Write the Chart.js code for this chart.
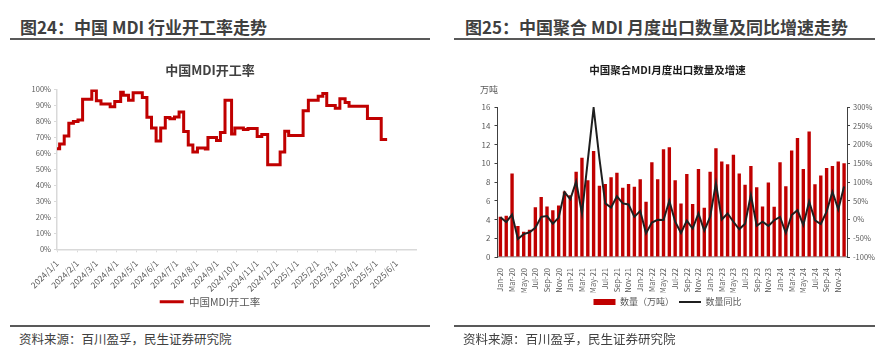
<!DOCTYPE html>
<html>
<head>
<meta charset="utf-8">
<script src="https://cdn.jsdelivr.net/npm/chart.js@4.4.1/dist/chart.umd.min.js"></script>
<style>
  body { margin: 0; width: 890px; height: 360px; background: #fff; overflow: hidden; position: relative; font-family: "Noto Sans CJK SC", sans-serif; }
  .head { position: absolute; top: 17px; font-size: 17px; font-weight: bold; color: #3f3f3f; line-height: 20px; white-space: nowrap; }
  .rule { position: absolute; height: 2px; background: #595959; }
  .src { position: absolute; top: 331px; font-size: 12.5px; color: #404040; line-height: 16px; white-space: nowrap; }
  .box { position: absolute; top: 55px; height: 262px; }
  .unit { position: absolute; left: 480px; top: 84px; font-size: 9px; line-height: 12px; color: #595959; }
</style>
</head>
<body>
<div class="head" style="left:20px">图24：中国 MDI 行业开工率走势</div>
<div class="rule" style="left:10px;top:38px;width:420px"></div>
<div class="box" style="left:4px;width:445px"><canvas id="rateChart"></canvas></div>
<div class="rule" style="left:10px;top:325px;width:420px"></div>
<div class="src" style="left:19px">资料来源：百川盈孚，民生证券研究院</div>

<div class="head" style="left:465px">图25：中国聚合 MDI 月度出口数量及同比增速走势</div>
<div class="rule" style="left:454px;top:38px;width:421px"></div>
<div class="box" style="left:445px;width:445px"><canvas id="exportChart"></canvas></div>
<div class="unit">万吨</div>
<div class="rule" style="left:454px;top:325px;width:421px"></div>
<div class="src" style="left:463px">资料来源：百川盈孚，民生证券研究院</div>

<script>
'use strict';

// 图24: MDI operating rate, value holds from each date until the next change
let rateDates = ['2024/1/1', '2024/1/5', '2024/1/12', '2024/1/19', '2024/1/26', '2024/2/2', '2024/2/9', '2024/2/23',
  '2024/3/1', '2024/3/8', '2024/3/22', '2024/3/29', '2024/4/7', '2024/4/11', '2024/4/19', '2024/4/26',
  '2024/5/10', '2024/5/17', '2024/5/24', '2024/5/31', '2024/6/7', '2024/6/14', '2024/6/21', '2024/6/28',
  '2024/7/5', '2024/7/12', '2024/7/19', '2024/7/26', '2024/8/2', '2024/8/14', '2024/8/18', '2024/8/31',
  '2024/9/6', '2024/9/13', '2024/9/23', '2024/9/28', '2024/10/11', '2024/10/18', '2024/11/1', '2024/11/8',
  '2024/11/17', '2024/12/6', '2024/12/13', '2024/12/19', '2025/1/10', '2025/1/18', '2025/2/2', '2025/2/9',
  '2025/2/15', '2025/2/28', '2025/3/7', '2025/3/15', '2025/3/21', '2025/4/18', '2025/5/9', '2025/5/18'];
let rateValues = [63, 66, 71, 79, 80, 81, 94, 99.5,
  93, 91, 89.2, 92.6, 98.4, 96.4, 93.4, 98,
  95, 82.7, 76, 67.8, 76, 82.5, 81.8, 82.8,
  86, 73.7, 65.3, 61, 63.5, 62.8, 70, 68.2,
  73.2, 93.4, 72.2, 76, 75, 75.6, 70.6, 71.9,
  53, 61, 73.9, 71.3, 86.7, 93.3, 95.8, 97.6,
  90, 88.4, 94.3, 92, 89.6, 81.9, 68.8, 68.8];
let rateTickLabels = ['2024/1/1', '2024/2/1', '2024/3/1', '2024/4/1', '2024/5/1', '2024/6/1', '2024/7/1', '2024/8/1',
  '2024/9/1', '2024/10/1', '2024/11/1', '2024/12/1', '2025/1/1', '2025/2/1', '2025/3/1', '2025/4/1', '2025/5/1', '2025/6/1'];
let rateAxisEnd = '2025/7/1';

// 图25: monthly export volume (万吨) and YoY (%)
let exportMonths = [
  'Jan-20', 'Feb-20', 'Mar-20', 'Apr-20', 'May-20', 'Jun-20', 'Jul-20', 'Aug-20', 'Sep-20', 'Oct-20', 'Nov-20', 'Dec-20',
  'Jan-21', 'Feb-21', 'Mar-21', 'Apr-21', 'May-21', 'Jun-21', 'Jul-21', 'Aug-21', 'Sep-21', 'Oct-21', 'Nov-21', 'Dec-21',
  'Jan-22', 'Feb-22', 'Mar-22', 'Apr-22', 'May-22', 'Jun-22', 'Jul-22', 'Aug-22', 'Sep-22', 'Oct-22', 'Nov-22', 'Dec-22',
  'Jan-23', 'Feb-23', 'Mar-23', 'Apr-23', 'May-23', 'Jun-23', 'Jul-23', 'Aug-23', 'Sep-23', 'Oct-23', 'Nov-23', 'Dec-23',
  'Jan-24', 'Feb-24', 'Mar-24', 'Apr-24', 'May-24', 'Jun-24', 'Jul-24', 'Aug-24', 'Sep-24', 'Oct-24', 'Nov-24', 'Dec-24'];
let exportVolume = [
  4.3, 4.4, 8.9, 3.3, 2.7, 2.9, 5.3, 6.4, 5.4, 5.0, 5.5, 7.0,
  6.6, 9.1, 10.6, 8.2, 11.3, 7.6, 7.8, 8.5, 9.0, 7.4, 7.8, 7.5,
  8.3, 5.9, 10.1, 8.3, 11.5, 11.7, 8.2, 5.7, 8.85, 5.65, 9.4, 5.25,
  9.1, 11.6, 10.2, 9.9, 10.9, 8.9, 7.7, 9.7, 7.45, 5.4, 7.95, 5.35,
  10.1, 7.55, 11.35, 12.7, 9.4, 13.4, 7.75, 8.7, 9.5, 9.7, 10.2, 10.0];
let exportYoy = [
  6, -7, 13, -52, -39, -34, -22, 7, 9, -11, 5, 73,
  54, 101, 16, 157, 298, 162, 43, 32, 62, 43, 40, 7,
  23, -37, -8, -1, -1.5, 50, -6, -36, -3, -24, 16, -30,
  7, 97, 0, 16, -6, -26, -11, 66, -17, -6, -17, -2,
  7, -36, 12, 25, -15, 48, -2, -12, 21, 74, 27, 88];

Chart.defaults.font.family = '"Noto Sans CJK SC", sans-serif';
Chart.defaults.color = '#595959';
Chart.defaults.animation = false;

function dayIndex(s) {
  let p = s.split('/').map(Number);
  return (Date.UTC(p[0], p[1] - 1, p[2]) - Date.UTC(2024, 0, 1)) / 86400000;
}

let ratePoints = [];
for (let i = 0; i < rateDates.length; i++) {
  ratePoints.push({ x: dayIndex(rateDates[i]), y: rateValues[i] });
}
let rateTickDays = rateTickLabels.map(dayIndex);

new Chart(document.getElementById('rateChart'), {
  type: 'line',
  data: {
    datasets: [{
      label: '中国MDI开工率',
      data: ratePoints,
      borderColor: '#C00000',
      backgroundColor: '#C00000',
      borderWidth: 3,
      pointRadius: 0,
      stepped: 'before'
    }]
  },
  options: {
    responsive: true,
    maintainAspectRatio: false,
    layout: { padding: { left: 0, right: 33, top: 0, bottom: 0 } },
    plugins: {
      title: {
        display: true,
        text: '中国MDI开工率',
        color: '#404040',
        font: { size: 13, weight: 'bold' },
        padding: { top: 7, bottom: 12 }
      },
      legend: {
        position: 'bottom',
        labels: {
          usePointStyle: true,
          pointStyle: 'line',
          pointStyleWidth: 24,
          boxHeight: 10,
          color: '#595959',
          font: { size: 10.5 },
          padding: 4
        }
      },
      tooltip: { enabled: false }
    },
    scales: {
      x: {
        type: 'linear',
        min: 0,
        max: dayIndex(rateAxisEnd),
        afterBuildTicks: (axis) => { axis.ticks = rateTickDays.map(v => ({ value: v })); },
        afterFit: (axis) => { axis.height = 43.2; },
        grid: { drawOnChartArea: false, color: '#D9D9D9', tickLength: 3 },
        border: { color: '#D9D9D9', width: 1.5 },
        ticks: {
          autoSkip: false,
          minRotation: 45,
          maxRotation: 45,
          padding: 6,
          font: { size: 8.5 },
          callback: (v, i) => rateTickLabels[i]
        }
      },
      y: {
        min: 0,
        max: 100,
        afterFit: (axis) => { axis.width = 53; },
        grid: { drawOnChartArea: false, color: '#D9D9D9', tickLength: 3 },
        border: { color: '#D9D9D9', width: 1.5 },
        ticks: { stepSize: 10, padding: 3, font: { size: 7.5 }, callback: v => v + '%' }
      }
    }
  }
});

new Chart(document.getElementById('exportChart'), {
  data: {
    labels: exportMonths,
    datasets: [{
      type: 'bar',
      label: '数量（万吨）',
      data: exportVolume,
      backgroundColor: '#C00000',
      borderWidth: 0,
      barPercentage: 0.58,
      categoryPercentage: 1,
      yAxisID: 'y',
      order: 1
    }, {
      type: 'line',
      label: '数量同比',
      data: exportYoy,
      borderColor: '#1F1F1F',
      backgroundColor: '#1F1F1F',
      borderWidth: 2,
      pointRadius: 0,
      tension: 0,
      yAxisID: 'y1',
      order: 0
    }]
  },
  options: {
    responsive: true,
    maintainAspectRatio: false,
    layout: { padding: { left: 0, right: 0, top: 0, bottom: 0.5 } },
    plugins: {
      title: {
        display: true,
        text: '中国聚合MDI月度出口数量及增速',
        color: '#1A1A1A',
        font: { size: 10.5, weight: 'bold' },
        padding: { top: 8.7, bottom: 30.7 }
      },
      legend: {
        position: 'bottom',
        labels: {
          usePointStyle: true,
          pointStyleWidth: 22,
          boxHeight: 6,
          color: '#595959',
          font: { size: 9 },
          padding: 5,
          sort: (a, b) => a.datasetIndex - b.datasetIndex,
          generateLabels: (chart) => Chart.defaults.plugins.legend.labels.generateLabels(chart).map(item => {
            item.pointStyle = item.datasetIndex === 0 ? 'rect' : 'line';
            return item;
          })
        }
      },
      tooltip: { enabled: false }
    },
    scales: {
      x: {
        afterFit: (axis) => { axis.height = 35.5; },
        grid: { display: false },
        border: { color: '#A6A6A6', width: 1.5 },
        ticks: {
          autoSkip: false,
          minRotation: 90,
          maxRotation: 90,
          padding: 3,
          font: { size: 7.5 },
          callback: (v, i) => (i % 2 === 0 ? exportMonths[i] : '')
        }
      },
      y: {
        position: 'left',
        min: 0,
        max: 16,
        afterFit: (axis) => { axis.width = 52.5; },
        grid: { drawOnChartArea: false, color: '#404040', tickLength: 3 },
        border: { color: '#404040', width: 1 },
        ticks: { stepSize: 2, padding: 4, font: { size: 8 } }
      },
      y1: {
        position: 'right',
        min: -100,
        max: 300,
        afterFit: (axis) => { axis.width = 43; },
        grid: { drawOnChartArea: false, color: '#404040', tickLength: 3 },
        border: { color: '#404040', width: 1 },
        ticks: { stepSize: 50, padding: 3, font: { size: 7.5 }, callback: v => v + '%' }
      }
    }
  }
});
</script>
</body>
</html>
